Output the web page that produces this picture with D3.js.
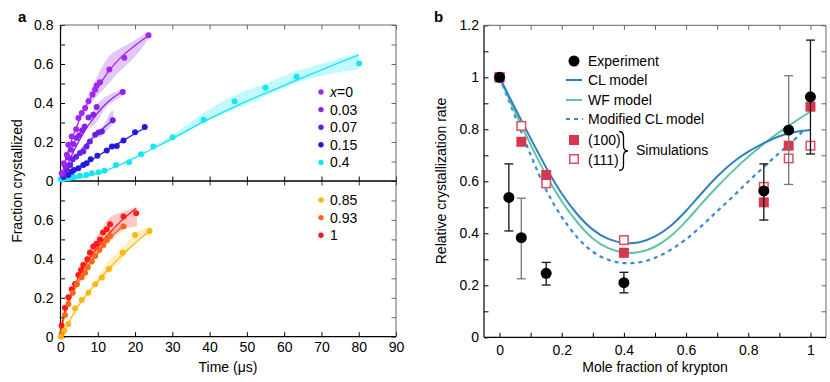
<!DOCTYPE html>
<html>
<head>
<meta charset="utf-8">
<script src="https://cdn.jsdelivr.net/npm/d3@7"></script>
<style>
body { margin:0; background:#fff; }
svg { font-family:"Liberation Sans", Arial, Helvetica, sans-serif; }
</style>
</head>
<body>
<svg id="fig" width="830" height="382"></svg>
<script>

// ---- panel a : fraction crystallized vs time (us) ----
var pts_x0 = [[0.3,0.04],[0.9,0.091],[1.7,0.134],[2.1,0.186],[3.0,0.228],[4.2,0.266],[4.8,0.323],[5.7,0.349],
	[6.6,0.375],[7.5,0.409],[8.6,0.443],[9.3,0.469],[9.7,0.49],[10.6,0.507],[13.1,0.572],[17.1,0.632],[23.6,0.747]];
var fit_x0 = [[0,0],[1,0.08],[2,0.15],[3,0.21],[5,0.31],[7,0.39],[10,0.48],[13,0.565],[16,0.63],[20,0.695],[23.6,0.745]];
var band_x0 = [[7,0.38,0.42],[8.5,0.41,0.48],[11,0.46,0.58],[13,0.5,0.64],[15,0.546,0.67],[18,0.6,0.7],[21,0.66,0.735],[23.6,0.73,0.765]];

var pts_x003 = [[0.5,0.04],[1.2,0.08],[2.0,0.12],[2.8,0.16],[3.5,0.19],[4.3,0.22],[5.0,0.235],[5.8,0.26],
	[6.5,0.28],[7.5,0.326],[8.8,0.34],[9.7,0.38],[16.7,0.457]];
var fit_x003 = [[0,0],[1,0.045],[2,0.09],[4,0.17],[6,0.24],[8,0.3],[10,0.35],[13,0.41],[16.7,0.46]];
var band_x003 = [[8,0.27,0.34],[10,0.31,0.4],[12,0.375,0.43],[14.5,0.41,0.455],[16.7,0.44,0.475]];

var pts_x007 = [[0.8,0.03],[1.7,0.057],[2.6,0.082],[3.3,0.112],[4.2,0.125],[5.2,0.143],[6.1,0.151],[7.0,0.177],
	[7.9,0.203],[9.3,0.237],[10.2,0.249],[11.1,0.254],[14.0,0.311]];
var fit_x007 = [[0,0],[2,0.06],[4,0.12],[6,0.17],[8,0.21],[10,0.245],[12,0.28],[14,0.31]];
var band_x007 = [[10.5,0.22,0.25],[12,0.25,0.3],[13,0.27,0.34],[14.2,0.297,0.365]];

var pts_x015 = [[0.8,0.02],[2.1,0.031],[3.0,0.048],[3.6,0.057],[4.8,0.065],[6.1,0.082],[7.0,0.091],[8.1,0.112],
	[9.9,0.129],[12.4,0.156],[13.8,0.177],[15.1,0.18],[16.9,0.208],[20.0,0.25],[22.6,0.277]];
var fit_x015 = [[0,0],[2,0.03],[4,0.055],[6,0.08],[8,0.105],[10,0.128],[13,0.163],[16,0.198],[19,0.232],[22.6,0.272]];

var pts_x04 = [[0.1,0.01],[0.75,0.01],[2.1,0.014],[3.6,0.022],[5.2,0.027],[6.9,0.031],[8.4,0.04],[10.2,0.045],
	[11.8,0.053],[14.9,0.082],[18.4,0.096],[21.6,0.137],[24.9,0.177],[30.1,0.225],[38.4,0.314],[46.7,0.409],
	[55.0,0.478],[63.3,0.534],[80.1,0.603]];
var fit_x04 = [[0,0],[5,0.015],[10,0.04],[15,0.075],[20,0.12],[25,0.168],[30,0.218],[40,0.32],[50,0.41],[60,0.49],[70,0.57],[80,0.645]];
var band_x04 = [[25,0.165,0.185],[30,0.21,0.235],[38.4,0.3,0.35],[46.7,0.366,0.44],[55,0.435,0.5],[63.3,0.502,0.563],[70,0.54,0.6],[80,0.57,0.655]];

var pts_x085 = [[0.1,0.0],[1.0,0.031],[2.1,0.065],[3.9,0.146],[5.7,0.189],[7.5,0.226],[9.3,0.269],[11.1,0.304],
	[13.0,0.348],[16.7,0.432],[20.0,0.523],[23.9,0.543]];
var fit_x085 = [[0,0],[2,0.065],[4,0.135],[6,0.19],[8,0.24],[10,0.285],[13,0.35],[16,0.41],[20,0.48],[23.9,0.545]];
var band_x085 = [[10,0.27,0.3],[12.4,0.317,0.377],[16.5,0.394,0.454],[20.5,0.497,0.54],[24.1,0.52,0.562]];

var pts_x093 = [[0.3,0.017],[1.2,0.112],[2.1,0.168],[3.3,0.226],[4.4,0.269],[5.7,0.305],[6.6,0.329],[7.3,0.357],
	[8.4,0.386],[9.3,0.415],[10.4,0.446],[11.5,0.471],[12.4,0.497],[13.3,0.518],[16.9,0.566]];
var fit_x093 = [[0,0.02],[1,0.1],[2,0.16],[3,0.21],[5,0.285],[7,0.35],[10,0.43],[13,0.5],[16.9,0.57]];
var band_x093 = [[4,0.24,0.28],[8,0.36,0.41],[12,0.46,0.51],[16.9,0.55,0.59]];

var pts_x1 = [[0.3,0.057],[1.2,0.149],[2.1,0.203],[3.0,0.244],[3.9,0.271],[4.8,0.317],[5.5,0.343],[6.1,0.369],
	[7.2,0.398],[7.9,0.432],[8.8,0.463],[9.7,0.477],[10.6,0.5],[11.4,0.535],[12.4,0.552],[13.3,0.578],[16.9,0.617],[20.3,0.634]];
var fit_x1 = [[0,0.03],[1,0.12],[2,0.18],[3,0.23],[5,0.31],[7,0.38],[10,0.46],[13,0.53],[16,0.59],[20.3,0.66]];
var band_x1 = [[5,0.3,0.34],[8,0.39,0.46],[10,0.43,0.52],[13.3,0.51,0.615],[16.5,0.55,0.64],[20.5,0.566,0.668]];

var timeTicks = d3.range(0, 91, 10);
var fracTicks = [0,0.1,0.2,0.3,0.4,0.5,0.6,0.7,0.8];

// ---- panel b : relative crystallization rate vs mole fraction of krypton ----
var krExp = [0,0.03,0.07,0.15,0.4,0.85,0.93,1];
var rateExp = [1.0,0.538,0.383,0.246,0.21,0.563,0.797,0.925];
var rateExpLo = [null,0.409,0.225,0.201,0.171,0.451,0.588,0.705];
var rateExpHi = [null,0.667,0.535,0.288,0.25,0.667,1.006,1.143];

var krSim = [0,0.07,0.15,0.4,0.85,0.93,1];
var rateSim100 = [1.0,0.752,0.624,0.325,0.519,0.737,0.887];
var rateSim111 = [1.0,0.813,0.592,0.374,0.579,0.688,0.737];

var clModel = [[0,1],[0.05,0.88],[0.1,0.765],[0.15,0.65],[0.2,0.55],[0.25,0.47],[0.3,0.41],[0.35,0.375],[0.4,0.36],
	[0.45,0.362],[0.5,0.385],[0.55,0.425],[0.6,0.485],[0.65,0.555],[0.7,0.62],[0.75,0.675],[0.8,0.715],[0.85,0.748],
	[0.9,0.775],[0.95,0.792],[1,0.797]];
var wfModel = [[0,1],[0.05,0.865],[0.1,0.74],[0.15,0.62],[0.2,0.52],[0.25,0.44],[0.3,0.375],[0.35,0.34],[0.4,0.323],
	[0.45,0.325],[0.5,0.345],[0.55,0.385],[0.6,0.445],[0.65,0.515],[0.7,0.58],[0.75,0.64],[0.8,0.695],[0.85,0.745],
	[0.9,0.79],[0.95,0.83],[1,0.868]];
var modClModel = [[0,1],[0.05,0.85],[0.1,0.7],[0.15,0.56],[0.2,0.46],[0.25,0.38],[0.3,0.325],[0.35,0.295],[0.4,0.283],
	[0.45,0.286],[0.5,0.303],[0.55,0.335],[0.6,0.375],[0.65,0.428],[0.7,0.485],[0.75,0.54],[0.8,0.6],[0.85,0.655],
	[0.9,0.71],[0.95,0.76],[0.978,0.797]];

var krTicks = [0,0.1,0.2,0.3,0.4,0.5,0.6,0.7,0.8,0.9,1];
var rateTicks = [0,0.1,0.2,0.3,0.4,0.5,0.6,0.7,0.8,0.9,1,1.1,1.2];


var svg = d3.select('#fig');
var FS = 14;

function fmtNum(v){ return d3.format('~g')(+v.toFixed(2)); }

// one side of a box: ticks pointing inward, optional labels
function side(axisFn, scale, vals, labelFn, tx, ty, color, pad){
	var g = svg.append('g').attr('transform','translate('+tx+','+ty+')')
		.call(axisFn(scale).tickValues(vals).tickSizeInner(-4.5).tickSizeOuter(0)
			.tickPadding(pad || 6).tickFormat(labelFn || function(){ return ''; }));
	g.attr('font-family', null).attr('font-size', FS);
	g.select('.domain').remove();
	g.selectAll('line').attr('stroke', color).attr('stroke-width', 1);
	g.selectAll('text').attr('fill','#000');
	return g;
}
// plain tick row with ticks going down from y
function tickRow(scale, vals, y, color){
	svg.append('g').attr('transform','translate(0,'+y+')')
		.call(d3.axisBottom(scale).tickValues(vals).tickSizeInner(4.5).tickSizeOuter(0).tickFormat(''))
		.call(function(g){ g.select('.domain').remove(); g.selectAll('line').attr('stroke', color); });
}
function hline(x1,x2,y,color,w){
	svg.append('line').attr('x1',x1).attr('x2',x2).attr('y1',y).attr('y2',y).attr('stroke',color).attr('stroke-width',w);
}
function vline(x,y1,y2,color,w){
	svg.append('line').attr('x1',x).attr('x2',x).attr('y1',y1).attr('y2',y2).attr('stroke',color).attr('stroke-width',w);
}

//  PANEL A
var xA = d3.scaleLinear().domain([0,90]).range([60.5,396]);
var yTop = d3.scaleLinear().domain([0,0.8]).range([181,25]);
var yBot = d3.scaleLinear().domain([0,0.8]).range([336.7,181]);

var labEvery = function(d,i){ return i % 2 ? '' : fmtNum(d); };
var labBot = function(d,i){ return (i % 2 || d > 0.75) ? '' : fmtNum(d); };

side(d3.axisLeft, yTop, fracTicks, labEvery, 60.5, 0, '#000', 7);
side(d3.axisRight, yTop, fracTicks, null, 396, 0, '#666');
side(d3.axisTop, xA, timeTicks, null, 0, 181, '#000')
	.selectAll('line').attr('y2', -4.5);
tickRow(xA, timeTicks, 25, '#666');
tickRow(xA, timeTicks, 181, '#333');

side(d3.axisLeft, yBot, fracTicks, labBot, 60.5, 0, '#000', 7);
side(d3.axisRight, yBot, fracTicks, null, 396, 0, '#666');
side(d3.axisBottom, xA, timeTicks, function(d){ return d; }, 0, 336.7, '#000', 5);

vline(60.5, 25, 336.7, '#000', 1.2);
vline(396, 25, 336.7, '#666', 1);
hline(60.5, 396, 25, '#666', 1);
hline(60.5, 396, 181, '#000', 1.3);
hline(60.5, 396, 336.7, '#000', 1.2);

var topSeries = [
	{ name:'0',    color:'#a526f2', band:band_x0,   fit:fit_x0,   pts:pts_x0,   bandFill:'#b86cf0' },
	{ name:'0.03', color:'#8c22ee', band:band_x003, fit:fit_x003, pts:pts_x003, bandFill:'#b370ef' },
	{ name:'0.07', color:'#6a1fe6', band:band_x007, fit:fit_x007, pts:pts_x007, bandFill:'#a070ea' },
	{ name:'0.15', color:'#2718e0', band:null,      fit:fit_x015, pts:pts_x015 },
	{ name:'0.4',  color:'#14e6f4', band:band_x04,  fit:fit_x04,  pts:pts_x04,  bandFill:'#5ff0f8' }
];
var botSeries = [
	{ name:'0.85', color:'#ffb60d', band:band_x085, fit:fit_x085, pts:pts_x085, bandFill:'#ffd66a' },
	{ name:'0.93', color:'#ff6516', band:band_x093, fit:fit_x093, pts:pts_x093, bandFill:'#ffa070' },
	{ name:'1',    color:'#ff1a1a', band:band_x1,   fit:fit_x1,   pts:pts_x1,   bandFill:'#ff7070' }
];

function drawSeries(list, y){
	var area = d3.area().x(function(d){ return xA(d[0]); })
		.y0(function(d){ return y(d[1]); }).y1(function(d){ return y(d[2]); })
		.curve(d3.curveMonotoneX);
	var line = d3.line().x(function(d){ return xA(d[0]); }).y(function(d){ return y(d[1]); })
		.curve(d3.curveMonotoneX);
	list.forEach(function(s){
		if(s.band) svg.append('path').attr('d', area(s.band)).attr('fill', s.bandFill).attr('opacity', 0.38);
	});
	list.forEach(function(s){
		svg.append('path').attr('d', line(s.fit)).attr('fill','none').attr('stroke', s.color).attr('stroke-width', 1.3);
	});
	list.slice().reverse().forEach(function(s){
		svg.append('g').selectAll('circle').data(s.pts).enter().append('circle')
			.attr('cx', function(d){ return xA(d[0]); })
			.attr('cy', function(d){ return y(d[1]); })
			.attr('r', 3).attr('fill', s.color);
	});
}
drawSeries(topSeries, yTop);
drawSeries(botSeries, yBot);

function legendA(list, y0){
	list.forEach(function(s, i){
		var yy = y0 + i * 17.6;
		svg.append('circle').attr('cx', 321).attr('cy', yy).attr('r', 2.7).attr('fill', s.color);
		var t = svg.append('text').attr('x', 330).attr('y', yy).attr('dy','0.36em').attr('font-size', FS);
		if(s.name === '0'){
			t.append('tspan').attr('font-style','italic').text('x');
			t.append('tspan').text('=0');
		} else t.text(s.name);
	});
}
legendA(topSeries, 92);
legendA(botSeries, 200);

svg.append('text').attr('x', 18).attr('y', 22).attr('font-size', 15).attr('font-weight','bold').text('a');
svg.append('text').attr('transform','translate(22,181) rotate(-90)').attr('text-anchor','middle')
	.attr('font-size', FS).text('Fraction crystallized');
svg.append('text').attr('x', 228).attr('y', 372).attr('text-anchor','middle').attr('font-size', FS).text('Time (\u03bcs)');

//  PANEL B
var xB = d3.scaleLinear().domain([-0.05,1.05]).range([484,826]);
var yB = d3.scaleLinear().domain([0,1.2]).range([337.3,25.3]);

side(d3.axisLeft, yB, rateTicks, labEvery, 484, 0, '#000', 5);
side(d3.axisRight, yB, rateTicks, null, 826, 0, '#666');
side(d3.axisBottom, xB, krTicks, labEvery, 0, 337.3, '#000', 8);
tickRow(xB, krTicks, 25.3, '#666');
vline(484, 25.3, 337.3, '#000', 1.2);
vline(826, 25.3, 337.3, '#666', 1);
hline(484, 826, 25.3, '#666', 1);
hline(484, 826, 337.3, '#000', 1.2);

var lineB = d3.line().x(function(d){ return xB(d[0]); }).y(function(d){ return yB(d[1]); }).curve(d3.curveBasis);
var CL = '#2f80c3', WF = '#5fc4a0', SIM = '#d8364f';
svg.append('path').attr('d', lineB(modClModel)).attr('fill','none').attr('stroke','#3a8bd0')
	.attr('stroke-width', 2.2).attr('stroke-dasharray','4,4');
svg.append('path').attr('d', lineB(wfModel)).attr('fill','none').attr('stroke', WF).attr('stroke-width', 2);
svg.append('path').attr('d', lineB(clModel)).attr('fill','none').attr('stroke', CL).attr('stroke-width', 2);

var sq = 10;
svg.append('g').selectAll('rect').data(krSim).enter().append('rect')
	.attr('x', function(d){ return xB(d) - sq/2 + 0.75; })
	.attr('y', function(d,i){ return yB(rateSim111[i]) - sq/2 + 0.75; })
	.attr('width', sq - 1.5).attr('height', sq - 1.5)
	.attr('fill','#fff').attr('stroke', '#e04a62').attr('stroke-width', 1.5);
svg.append('g').selectAll('rect').data(krSim).enter().append('rect')
	.attr('x', function(d){ return xB(d) - sq/2; })
	.attr('y', function(d,i){ return yB(rateSim100[i]) - sq/2; })
	.attr('width', sq).attr('height', sq).attr('fill', SIM);

var grayBars = [0.07, 0.93];
krExp.forEach(function(k, i){
	if(rateExpLo[i] == null) return;
	var c = grayBars.indexOf(k) >= 0 ? '#777' : '#111';
	var x = xB(k);
	vline(x, yB(rateExpHi[i]), yB(rateExpLo[i]), c, 1.3);
	hline(x - 4.5, x + 4.5, yB(rateExpHi[i]), c, 1.3);
	hline(x - 4.5, x + 4.5, yB(rateExpLo[i]), c, 1.3);
});
svg.append('g').selectAll('circle').data(krExp).enter().append('circle')
	.attr('cx', function(d){ return xB(d); })
	.attr('cy', function(d,i){ return yB(rateExp[i]); })
	.attr('r', 5.5).attr('fill','#000');

// legend b
var lx = 574, tx = 588;
svg.append('circle').attr('cx', lx).attr('cy', 61).attr('r', 5.5).attr('fill','#000');
hline(566, 582, 80, CL, 2);
hline(566, 582, 100, WF, 2);
svg.append('line').attr('x1',566).attr('x2',583).attr('y1',119).attr('y2',119)
	.attr('stroke','#3a8bd0').attr('stroke-width',2.2).attr('stroke-dasharray','4,4');
svg.append('rect').attr('x', lx-5).attr('y', 135).attr('width', 10).attr('height', 10).attr('fill', SIM);
svg.append('rect').attr('x', lx-4.25).attr('y', 154.75).attr('width', 8.5).attr('height', 8.5)
	.attr('fill','#fff').attr('stroke','#e04a62').attr('stroke-width',1.5);
[['Experiment',61],['CL model',80],['WF model',100],['Modified CL model',119],['(100)',140],['(111)',159.5]].forEach(function(r){
	svg.append('text').attr('x', tx).attr('y', r[1]).attr('dy','0.36em').attr('font-size', FS).text(r[0]);
});
svg.append('path').attr('d','M619,131.5 Q623.5,131.5 623.5,137 L623.5,146 Q623.5,151 628,151 Q623.5,151 623.5,156 L623.5,165 Q623.5,170.5 619,170.5')
	.attr('fill','none').attr('stroke','#000').attr('stroke-width',1.3);
svg.append('text').attr('x', 636).attr('y', 150).attr('dy','0.36em').attr('font-size', FS).text('Simulations');

svg.append('text').attr('x', 434).attr('y', 22).attr('font-size', 15).attr('font-weight','bold').text('b');
svg.append('text').attr('transform','translate(446,181) rotate(-90)').attr('text-anchor','middle')
	.attr('font-size', FS).text('Relative crystallization rate');
svg.append('text').attr('x', 655).attr('y', 372).attr('text-anchor','middle').attr('font-size', FS).text('Mole fraction of krypton');

</script>
</body>
</html>
